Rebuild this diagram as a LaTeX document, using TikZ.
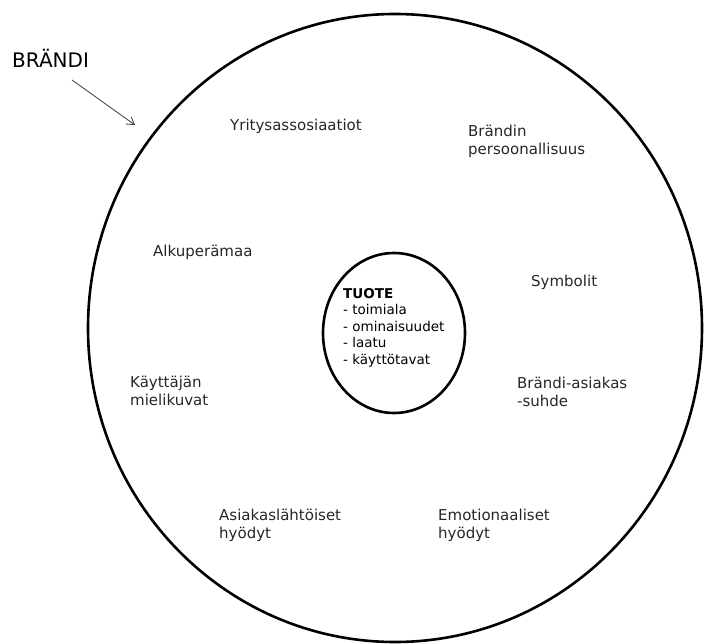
\documentclass[tikz,border=0pt]{standalone}
\usepackage{fontspec}
\setmainfont{DejaVu Sans}
\usetikzlibrary{arrows.meta}
\tikzset{
  ring/.style={draw=black, line width=2.6pt},
  lbl/.style={anchor=base west, align=left, inner sep=0pt, text=black!85,
              font=\fontsize{15}{18}\selectfont},
  inner/.style={anchor=base west, align=left, inner sep=0pt, text=black,
              font=\fontsize{13.5}{16.5}\selectfont},
  pointer/.style={draw=black!70, line width=0.9pt, -{Straight Barb[length=7pt,width=9pt]}}
}
\begin{document}
\begin{tikzpicture}[x=1pt,y=-1pt]
\useasboundingbox (0,0) rectangle (704,644);
\draw[ring] (395,328) ellipse [x radius=307, y radius=314];
\draw[ring] (394,333) ellipse [x radius=71, y radius=80];
\node[anchor=base west, inner sep=0pt, font=\fontsize{20}{24}\selectfont] (brandi) at (12,68) {BRÄNDI};
\coordinate (arrs) at (72,80);
\coordinate (arre) at (135,125);
\draw[pointer] (arrs) -- (arre);
\node[lbl] (yrit) at (230,131) {Yritysassosiaatiot};
\node[lbl] (pers) at (468,155) {Brändin\\persoonallisuus};
\node[lbl] (alku) at (153,257) {Alkuperämaa};
\node[lbl] (symb) at (531,287) {Symbolit};
\node[lbl] (kayt) at (130,405) {Käyttäjän\\mielikuvat};
\node[lbl] (suhde) at (517,406) {Brändi-asiakas\\-suhde};
\node[lbl] (asia) at (219,538) {Asiakaslähtöiset\\hyödyt};
\node[lbl] (emot) at (438,538) {Emotionaaliset\\hyödyt};
\node[inner] (tuote) at (343,364) {\textbf{TUOTE}\\- toimiala\\- ominaisuudet\\- laatu\\- käyttötavat};
\end{tikzpicture}
\end{document}
